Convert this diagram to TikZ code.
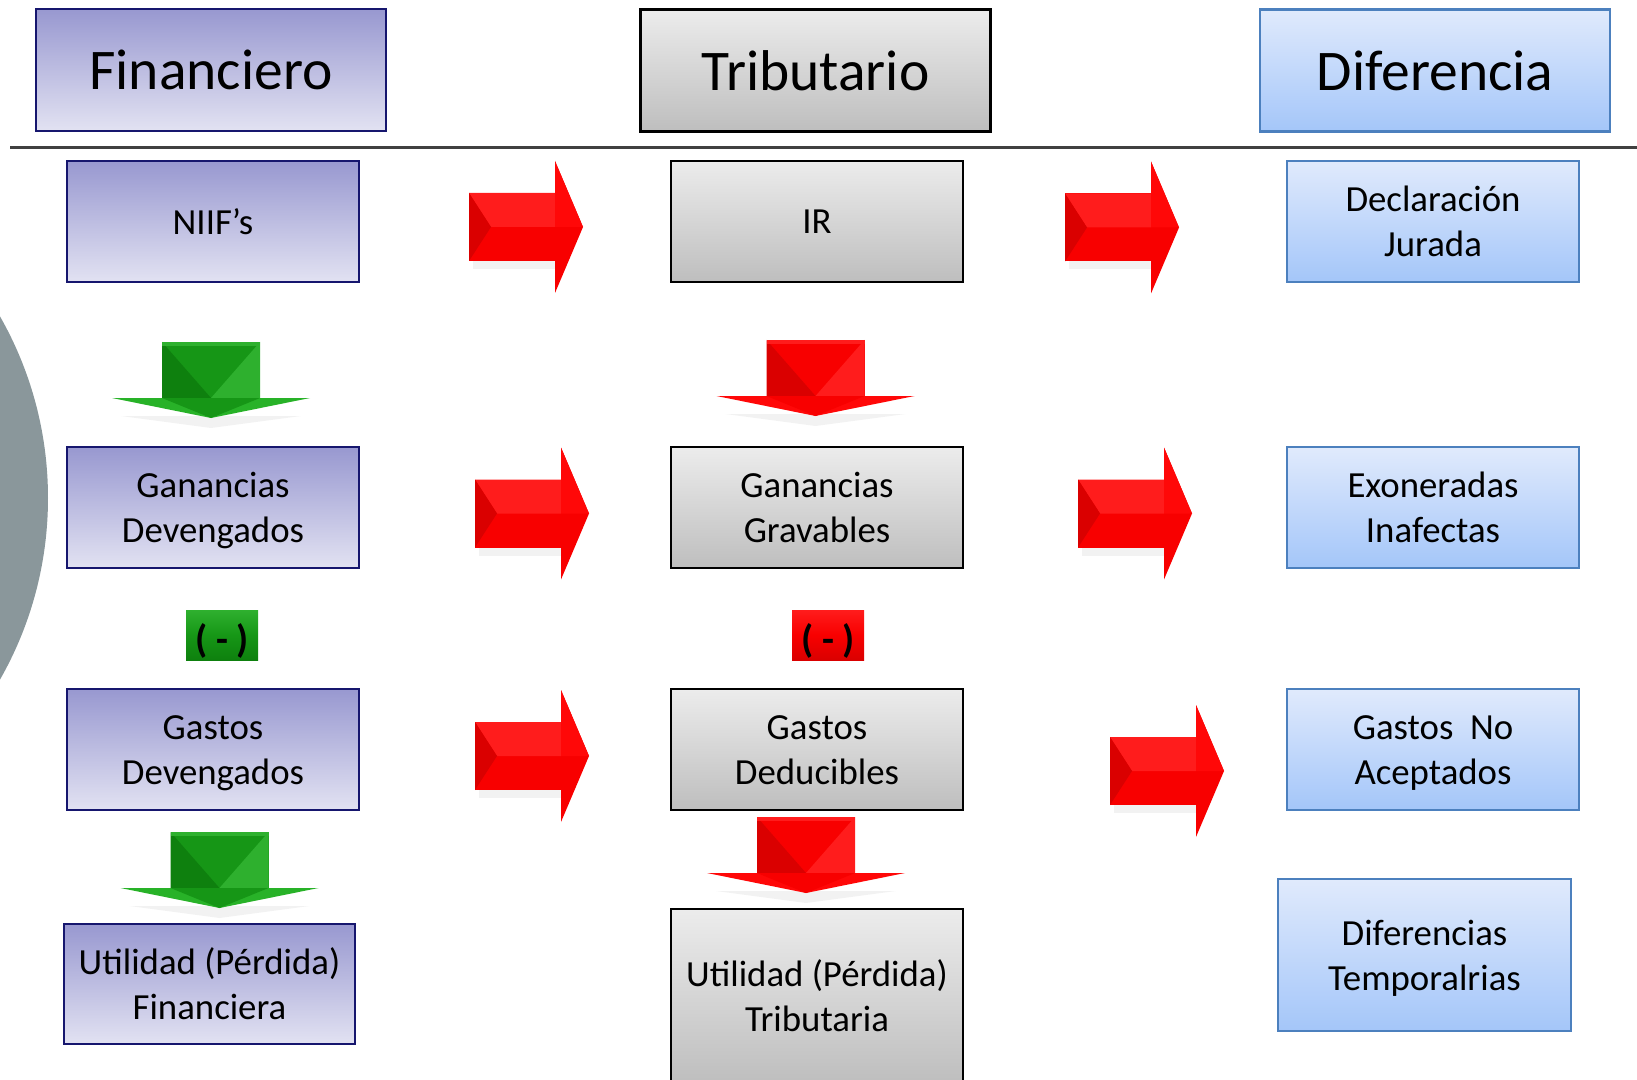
\documentclass[tikz,border=0pt]{standalone}
\usepackage{fontspec}
\setmainfont{Carlito}

% column palettes
\definecolor{finTop}{RGB}{152,152,208}
\definecolor{finBot}{RGB}{226,226,242}
\definecolor{finLine}{RGB}{22,22,110}
\definecolor{triTop}{RGB}{236,236,236}
\definecolor{triBot}{RGB}{190,190,190}
\definecolor{difTop}{RGB}{224,234,252}
\definecolor{difBot}{RGB}{164,198,249}
\definecolor{difLine}{RGB}{76,128,190}
\definecolor{discGrey}{RGB}{138,151,155}
\definecolor{ruleGrey}{RGB}{64,64,64}
% block-arrow palettes (r = red, g = green)
\definecolor{rmain}{RGB}{248,0,0}
\definecolor{rdark}{RGB}{218,0,0}
\definecolor{rlight}{RGB}{255,28,28}
\definecolor{rwing}{RGB}{255,8,8}
\definecolor{gmain}{RGB}{22,150,22}
\definecolor{gdark}{RGB}{14,128,14}
\definecolor{glight}{RGB}{46,176,46}
\definecolor{gwing}{RGB}{40,178,40}

\newcommand\txthead{\fontsize{28.75pt}{35pt}\selectfont}
\newcommand\txtbody{\fontsize{18.4pt}{22.5pt}\selectfont}
\newcommand\txtminus{\fontsize{19.5pt}{22pt}\selectfont\bfseries}
% two-line label with struts so every block gets the same line box
\newcommand\twolbl[2]{\rule{0pt}{17.2pt}#1\\#2\rule[-4.5pt]{0pt}{4.5pt}}

\tikzset{
  box/.style={line width=1.1pt, inner sep=0pt, align=center, font=\txtbody,
    minimum width=146pt, minimum height=60.5pt},
  fin/.style={box, draw=finLine, top color=finTop, bottom color=finBot},
  tri/.style={box, draw=black, top color=triTop, bottom color=triBot},
  dif/.style={box, draw=difLine, top color=difTop, bottom color=difBot},
  head/.style={font=\txthead, minimum width=175pt, minimum height=61pt},
  minusbox/.style={inner sep=0pt, minimum width=36pt, minimum height=25pt},
  % right-pointing bevelled block arrow, origin at left end of the shaft
  pics/rarrow/.style={code={
    \fill[black,opacity=.05] (4,32) rectangle (90,42);
    \fill[#1main] (0,-34) rectangle (86,34);
    \fill[#1main] (86,-66) -- (114,0) -- (86,66) -- cycle;
    \fill[#1light] (0,-34) -- (86,-34) -- (86,0) -- (22,0) -- cycle;
    \fill[#1dark] (0,-34) -- (22,0) -- (0,34) -- cycle;
    \fill[#1wing] (86,-66) -- (114,0) -- (86,0) -- cycle;
  }},
  % downward bevelled block arrow, origin at top middle of the shaft
  pics/darrow/.style={code={
    \fill[black,opacity=.05] (-90,74) -- (90,74) -- (0,86) -- cycle;
    \fill[#1main] (-49,0) rectangle (49,56);
    \fill[#1dark] (-49,0) -- (0,56) -- (-49,56) -- cycle;
    \fill[#1light] (49,0) -- (49,56) -- (0,56) -- cycle;
    \fill[#1light] (-49,0) rectangle (49,4);
    \fill[#1wing] (-99,56) -- (99,56) -- (0,76) -- cycle;
    \fill[#1main] (-49,56) -- (49,56) -- (0,76) -- cycle;
  }}
}

\begin{document}
\begin{tikzpicture}[x=0.5pt, y=-0.5pt]
  \clip (0,0) rectangle (1637,1080);

  % grey disc cut by the left edge
  \fill[discGrey] (-319,498) circle[radius=183.5pt];

  % column headers and rule
  \node[fin, head] (hFin) at (211,70) {Financiero};
  \node[tri, head] (hTri) at (815.5,70.5) {Tributario};
  \node[dif, head] (hDif) at (1435,70.5) {Diferencia};
  \coordinate (ruleL) at (10,148);
  \coordinate (ruleR) at (1637,148);
  \draw[ruleGrey, line width=1.5pt] (ruleL) -- (ruleR);

  % financial column
  \node[fin] (fNiif) at (213,221.5) {NIIF’s};
  \node[fin] (fGan) at (213,507.5) {\twolbl{Ganancias}{Devengados}};
  \node[fin] (fGas) at (213,749.5) {\twolbl{Gastos}{Devengados}};
  \node[fin, minimum width=145.5pt, minimum height=60pt] (fUtil)
    at (209.5,984) {\twolbl{Utilidad (Pérdida)}{Financiera}};

  % tax column
  \node[tri] (tIR) at (817,221.5) {IR};
  \node[tri] (tGan) at (817,507.5) {\twolbl{Ganancias}{Gravables}};
  \node[tri] (tGas) at (817,749.5) {\twolbl{Gastos}{Deducibles}};
  \node[tri, minimum height=87pt] (tUtil) at (817,996)
    {\twolbl{Utilidad (Pérdida)}{Tributaria}};

  % difference column
  \node[dif] (dDecl) at (1433,221.5) {\twolbl{Declaración}{Jurada}};
  \node[dif] (dExo) at (1433,507.5) {\twolbl{Exoneradas}{Inafectas}};
  \node[dif] (dGas) at (1433,749.5) {\twolbl{Gastos\ \ No}{Aceptados}};
  \node[dif, minimum width=146.5pt, minimum height=76pt] (dTemp)
    at (1424.5,955) {\twolbl{Diferencias}{Temporalrias}};

  % subtraction markers
  \node[minusbox, top color=glight, bottom color=gdark, middle color=gmain]
    (gMinus) at (222,635.5) {};
  \node[font=\txtminus] (gMinusTxt) at (222,641) {( - )};
  \node[minusbox, top color=rlight, bottom color=rdark, middle color=rmain]
    (rMinus) at (828,635) {};
  \node[font=\txtminus] (rMinusTxt) at (828,640.5) {( - )};

  % horizontal block arrows
  \pic at (469,227) {rarrow=r};
  \pic at (1065,227.5) {rarrow=r};
  \pic at (475,513.5) {rarrow=r};
  \pic at (1078,513.5) {rarrow=r};
  \pic at (475,756) {rarrow=r};
  \pic at (1110,771) {rarrow=r};

  % vertical block arrows
  \pic at (211,342) {darrow=g};
  \pic at (815.5,340) {darrow=r};
  \pic at (219.5,832) {darrow=g};
  \pic at (806,817) {darrow=r};
\end{tikzpicture}
\end{document}
